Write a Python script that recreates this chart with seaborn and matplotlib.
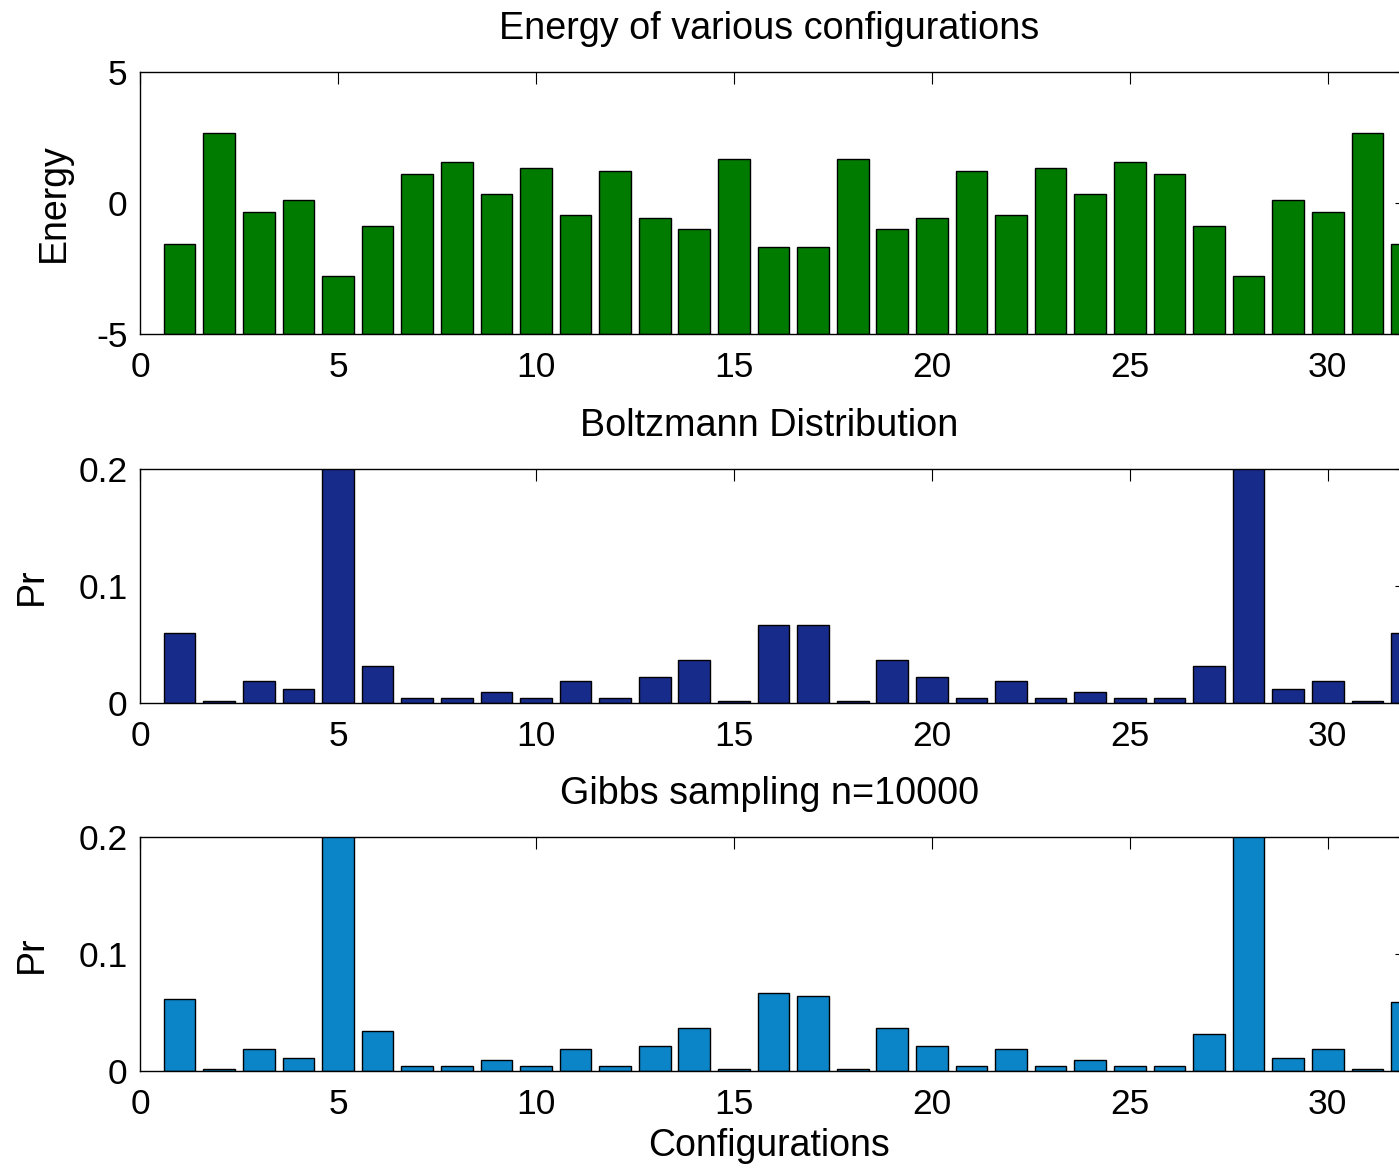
import numpy as np
import pandas as pd
import seaborn as sns
from matplotlib import pyplot as plt

configs = list(range(1, 33))

energy = [-1.58, 2.66, -0.36, 0.10, -2.80, -0.89, 1.11, 1.55, 0.33, 1.32, -0.46, 1.21,
          -0.56, -1.00, 1.67, -1.69, -1.69, 1.67, -1.00, -0.56, 1.21, -0.46, 1.32, 0.33,
          1.55, 1.11, -0.89, -2.80, 0.10, -0.36, 2.66, -1.58]

boltzmann = [0.060, 0.0018, 0.019, 0.012, 0.207, 0.032, 0.004, 0.004, 0.0095, 0.004, 0.019, 0.004,
             0.022, 0.037, 0.0018, 0.067, 0.067, 0.0018, 0.037, 0.022, 0.004, 0.019, 0.004, 0.0095,
             0.004, 0.004, 0.032, 0.207, 0.012, 0.019, 0.0018, 0.060]

gibbs = [0.0615, 0.0016, 0.019, 0.0114, 0.207, 0.034, 0.004, 0.004, 0.009, 0.004, 0.019, 0.004,
         0.0215, 0.0366, 0.0016, 0.0667, 0.0644, 0.0016, 0.0366, 0.0215, 0.004, 0.019, 0.004, 0.009,
         0.004, 0.004, 0.0318, 0.207, 0.0114, 0.019, 0.0016, 0.059]

titles = ['Energy of various configurations', 'Boltzmann Distribution', 'Gibbs sampling n=10000']
ylabels = ['Energy', 'Pr', 'Pr']
colors = ['#007b00', '#172b8a', '#0b85c8']

sns.set_style('white')
plt.rcParams['font.family'] = ['Liberation Sans', 'DejaVu Sans']
plt.rcParams['text.color'] = 'black'
plt.rcParams['axes.labelcolor'] = 'black'
plt.rcParams['xtick.color'] = 'black'
plt.rcParams['ytick.color'] = 'black'

fig = plt.figure(figsize=(13.99, 11.73), dpi=100)

# axes boxes in figure fractions (right spine falls just outside the image)
boxes = [[0.1001, 0.7153, 0.9056, 0.2234],
         [0.1001, 0.4007, 0.9056, 0.1995],
         [0.1001, 0.0870, 0.9056, 0.1995]]
ylims = [(-5, 5), (0, 0.2), (0, 0.2)]
yticks = [[-5, 0, 5], [0, 0.1, 0.2], [0, 0.1, 0.2]]
ytick_labels = [['-5', '0', '5'], ['0', '0.1', '0.2'], ['0', '0.1', '0.2']]
ylabel_x = [-0.054, -0.071, -0.071]

for i, values in enumerate([energy, boltzmann, gibbs]):
    ax = fig.add_axes(boxes[i])
    df = pd.DataFrame({'config': configs, 'value': values})
    sns.barplot(data=df, x='config', y='value', native_scale=True, color=colors[i],
                saturation=1, edgecolor='black', linewidth=1.0, width=0.8, ax=ax)
    if i == 0:
        # bars start from the bottom of the axis, as in the original
        for p in ax.patches:
            top = p.get_y() + p.get_height()
            p.set_y(ylims[0][0])
            p.set_height(top - ylims[0][0])
    ax.set_xlim(0, 32)
    ax.set_ylim(*ylims[i])
    ax.set_xticks([0, 5, 10, 15, 20, 25, 30])
    ax.set_xticklabels(['0', '5', '10', '15', '20', '25', '30'])
    ax.set_yticks(yticks[i])
    ax.set_yticklabels(ytick_labels[i])
    ax.tick_params(direction='in', length=8.5, width=0.8, color='black',
                   top=True, right=True, labelsize=25.5, labelcolor='black')
    ax.tick_params(axis='x', pad=12)
    ax.tick_params(axis='y', pad=9)
    for s in ax.spines.values():
        s.set_color('black')
        s.set_linewidth(1.0)
    ax.set_title(titles[i], fontsize=27.2, pad=24, color='black', x=0.4965)
    ax.set_ylabel(ylabels[i], fontsize=27)
    ax.yaxis.set_label_coords(ylabel_x[i], 0.5)
    if i == 2:
        ax.set_xlabel('Configurations', fontsize=27)
        ax.xaxis.set_label_coords(0.4965, -0.245)
    else:
        ax.set_xlabel('')

plt.savefig('out.png', dpi=100)
